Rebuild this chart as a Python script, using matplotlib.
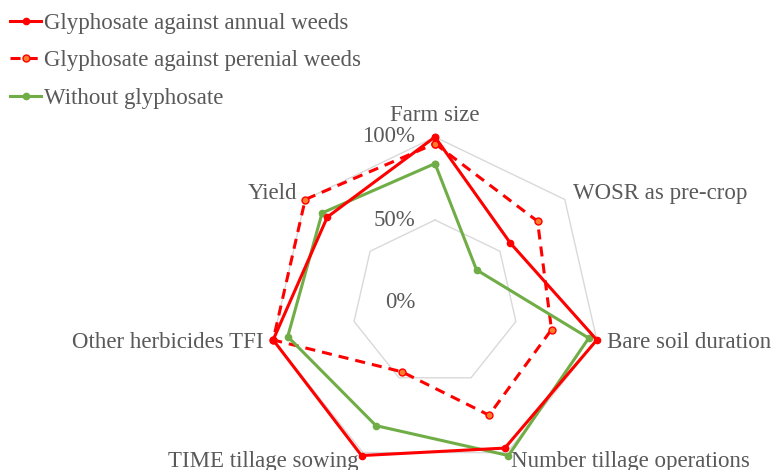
import numpy as np
import matplotlib
matplotlib.use("Agg")
from matplotlib import pyplot as plt

# axes of the radar, clockwise from the top
categories = ["Farm size", "WOSR as pre-crop", "Bare soil duration",
              "Number tillage operations", "TIME tillage sowing",
              "Other herbicides TFI", "Yield"]

# values in % of the max
annual    = [100, 58, 100, 97, 102, 100, 83]
perennial = [96, 79, 72, 75, 46, 100, 100]
without   = [84, 32, 95, 102, 82, 91, 87]

grid_levels = [0.5, 1.0]
tick_labels = ["0%", "50%", "100%"]
tick_values = [0.0, 0.5, 1.0]

plt.rcParams['font.family'] = ['Liberation Serif', 'DejaVu Serif']
grey = '#595959'
fs = 16.5

n = len(categories)
ang = np.pi / 2 - np.arange(n) * 2 * np.pi / n

def to_xy(vals):
    r = np.array(vals, dtype=float) / 100.0
    r = np.append(r, r[0])
    a = np.append(ang, ang[0])
    return r * np.cos(a), r * np.sin(a)

fig = plt.figure(figsize=(7.72, 4.70), dpi=100)
ax = fig.add_axes([0, 0, 1, 1])
R = 166.0  # pixels per 100%
ax.set_xlim(-435 / R, (772 - 435) / R)
ax.set_ylim(-(470 - 303) / R, 303 / R)
ax.axis('off')

# heptagon grid
for g in grid_levels:
    gx, gy = to_xy([g * 100] * n)
    ax.plot(gx, gy, color='#d9d9d9', lw=1.0, zorder=1)

# radial tick labels, to the left of the top axis
for v, t in zip(tick_values, tick_labels):
    ax.text(-0.12, v, t, ha='right', va='center', fontsize=fs, color=grey)

# category labels
for k, (a, c) in enumerate(zip(ang, categories)):
    cx, cy = np.cos(a), np.sin(a)
    if k == 0:
        ax.text(0, 1.13, c, ha='center', va='center', fontsize=fs, color=grey)
        continue
    rr = 1.06
    ha = 'left' if cx > 0 else 'right'
    ax.text(rr * cx, rr * cy, c, ha=ha, va='center', fontsize=fs, color=grey)

x, y = to_xy(annual)
ax.plot(x, y, color='#ff0000', lw=2.2, marker='o', ms=4.5, mfc='#ff0000',
        mec='#ff0000', label='Glyphosate against annual weeds', zorder=4)
x, y = to_xy(perennial)
ax.plot(x, y, color='#ff0000', lw=2.2, ls=(0, (3.3, 2.3)), marker='o', ms=5,
        mfc='#ff7c2a', mec='#ff0000', mew=1,
        label='Glyphosate against perenial weeds', zorder=3)
x, y = to_xy(without)
ax.plot(x, y, color='#70ad47', lw=2.2, marker='o', ms=4.5, mfc='#70ad47',
        mec='#70ad47', label='Without glyphosate', zorder=3)

leg = ax.legend(loc='upper left', bbox_to_anchor=(0.0, 0.995), frameon=False,
                fontsize=fs, handlelength=1.35, handletextpad=0.13,
                labelspacing=0.72, borderaxespad=0.1, borderpad=0.35)
for t in leg.get_texts():
    t.set_color(grey)

fig.savefig('out.png', dpi=100)
